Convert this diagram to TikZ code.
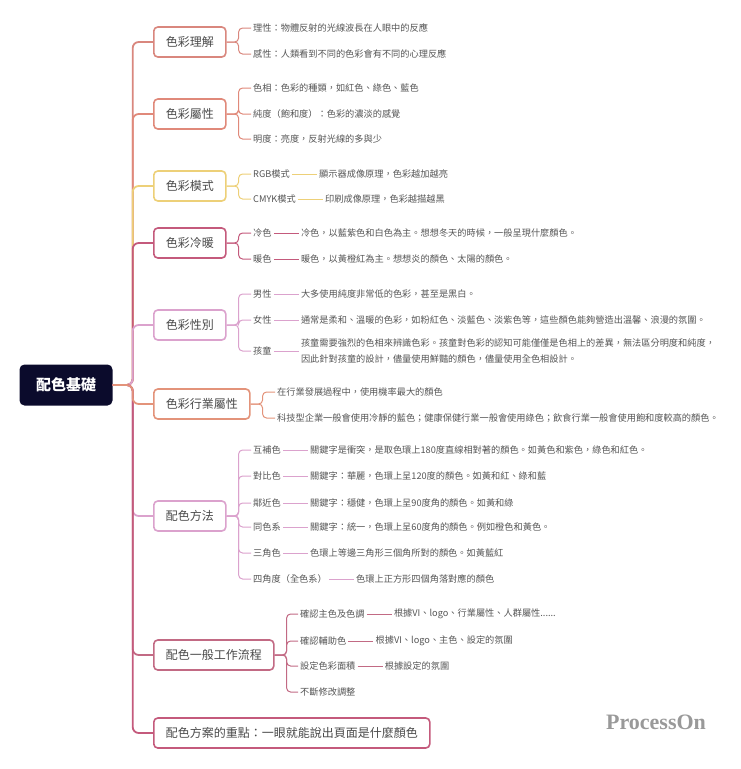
\documentclass[tikz,border=0pt]{standalone}
\usepackage{fontspec}
\setmainfont{Noto Sans CJK TC}
\newfontfamily\logofont{Liberation Serif}
\usetikzlibrary{positioning}
\definecolor{rootnavy}{HTML}{0B0B2C}
\definecolor{salmon}{HTML}{D9877E}
\definecolor{coral}{HTML}{E0897A}
\definecolor{sand}{HTML}{EDD078}
\definecolor{rose}{HTML}{C45A7C}
\definecolor{orchid}{HTML}{DBA2CD}
\definecolor{apricot}{HTML}{E3937A}
\definecolor{wine}{HTML}{C26A84}
\definecolor{txtgray}{HTML}{4A4A4A}
\definecolor{leafgray}{HTML}{555555}
\tikzstyle{catnode}=[draw, rounded corners=4pt, line width=1.6pt, fill=white,
					text=txtgray, font=\fontsize{12}{14}\selectfont,
					minimum height=30pt, inner xsep=12pt, anchor=west]

\begin{document}
\begin{tikzpicture}[x=1pt, y=-1pt,
 rootnode/.style={rectangle, rounded corners=5pt, fill=rootnavy, text=white, font=\bfseries\fontsize{15}{18}\selectfont, minimum width=93pt, minimum height=41pt},
 leafnode/.style={anchor=west, inner sep=2pt, text=leafgray, font=\fontsize{9.2}{16}\selectfont},
 branch/.style={line width=1.8pt, rounded corners=6pt},
 twig/.style={line width=1pt, rounded corners=4pt},
 ]
 \useasboundingbox (0,0) rectangle (740,769);
 %Nodes
 \node[rootnode]  (root_node)  at (66,385) {配色基礎};

 \node[catnode, draw=salmon]  (understand_node)  at (153,42)  {色彩理解};
 \node[catnode, draw=coral]   (attribute_node)   at (153,114) {色彩屬性};
 \node[catnode, draw=sand]    (mode_node)        at (153,186) {色彩模式};
 \node[catnode, draw=rose]    (temp_node)        at (153,243) {色彩冷暖};
 \node[catnode, draw=orchid]  (gender_node)      at (153,325) {色彩性別};
 \node[catnode, draw=apricot] (industry_node)    at (153,404) {色彩行業屬性};
 \node[catnode, draw=orchid]  (method_node)      at (153,516) {配色方法};
 \node[catnode, draw=wine]    (flow_node)        at (153,655) {配色一般工作流程};
 \node[catnode, draw=rose]    (key_node)         at (153,733) {配色方案的重點：一眼就能說出頁面是什麼顏色};

 \node[leafnode] (rational_node)  at (251,28)  {理性：物體反射的光線波長在人眼中的反應};
 \node[leafnode] (emotion_node)   at (251,54)  {感性：人類看到不同的色彩會有不同的心理反應};

 \node[leafnode] (hue_node)       at (251,88)  {色相：色彩的種類，如紅色、綠色、藍色};
 \node[leafnode] (chroma_node)    at (251,114) {純度（飽和度）：色彩的濃淡的感覺};
 \node[leafnode] (value_node)     at (251,139) {明度：亮度，反射光線的多與少};

 \node[leafnode] (rgb_node)       at (251,174) {RGB模式};
 \node[leafnode] (rgb_desc)       [right=25pt of rgb_node] {顯示器成像原理，色彩越加越亮};
 \node[leafnode] (cmyk_node)      at (251,199) {CMYK模式};
 \node[leafnode] (cmyk_desc)      [right=25pt of cmyk_node] {印刷成像原理，色彩越描越黑};

 \node[leafnode] (cold_node)      at (251,233) {冷色};
 \node[leafnode] (cold_desc)      [right=25pt of cold_node] {冷色，以藍紫色和白色為主。想想冬天的時候，一般呈現什麼顏色。};
 \node[leafnode] (warm_node)      at (251,259) {暖色};
 \node[leafnode] (warm_desc)      [right=25pt of warm_node] {暖色，以黃橙紅為主。想想炎的顏色、太陽的顏色。};

 \node[leafnode] (male_node)      at (251,294) {男性};
 \node[leafnode] (male_desc)      [right=25pt of male_node] {大多使用純度非常低的色彩，甚至是黑白。};
 \node[leafnode] (female_node)    at (251,320) {女性};
 \node[leafnode] (female_desc)    [right=25pt of female_node] {通常是柔和、溫暖的色彩，如粉紅色、淡藍色、淡紫色等，這些顏色能夠營造出溫馨、浪漫的氛圍。};
 \node[leafnode] (child_node)     at (251,351) {孩童};
 \node[leafnode, align=left] (child_desc) [right=25pt of child_node] {孩童需要強烈的色相來辨識色彩。孩童對色彩的認知可能僅僅是色相上的差異，無法區分明度和純度，\\因此針對孩童的設計，儘量使用鮮豔的顏色，儘量使用全色相設計。};

 \node[leafnode] (usage_node)     at (275,392) {在行業發展過程中，使用機率最大的顏色};
 \node[leafnode] (sector_node)    at (275,418) {科技型企業一般會使用冷靜的藍色；健康保健行業一般會使用綠色；飲食行業一般會使用飽和度較高的顏色。};

 \node[leafnode] (compl_node)     at (251,450) {互補色};
 \node[leafnode] (compl_desc)     [right=25pt of compl_node] {關鍵字是衝突，是取色環上180度直線相對著的顏色。如黃色和紫色，綠色和紅色。};
 \node[leafnode] (contrast_node)  at (251,476) {對比色};
 \node[leafnode] (contrast_desc)  [right=25pt of contrast_node] {關鍵字：華麗，色環上呈120度的顏色。如黃和紅、綠和藍};
 \node[leafnode] (adjacent_node)  at (251,503) {鄰近色};
 \node[leafnode] (adjacent_desc)  [right=25pt of adjacent_node] {關鍵字：穩健，色環上呈90度角的顏色。如黃和綠};
 \node[leafnode] (mono_node)      at (251,527) {同色系};
 \node[leafnode] (mono_desc)      [right=25pt of mono_node] {關鍵字：統一，色環上呈60度角的顏色。例如橙色和黃色。};
 \node[leafnode] (triad_node)     at (251,553) {三角色};
 \node[leafnode] (triad_desc)     [right=25pt of triad_node] {色環上等邊三角形三個角所對的顏色。如黃藍紅};
 \node[leafnode] (tetrad_node)    at (251,579) {四角度（全色系）};
 \node[leafnode] (tetrad_desc)    [right=25pt of tetrad_node] {色環上正方形四個角落對應的顏色};

 \node[leafnode] (main_node)      at (298,614) {確認主色及色調};
 \node[leafnode] (main_desc)      [right=25pt of main_node] {根據VI、logo、行業屬性、人群屬性......};
 \node[leafnode] (assist_node)    at (298,641) {確認輔助色};
 \node[leafnode] (assist_desc)    [right=25pt of assist_node] {根據VI、logo、主色、設定的氛圍};
 \node[leafnode] (area_node)      at (298,666) {設定色彩面積};
 \node[leafnode] (area_desc)      [right=25pt of area_node] {根據設定的氛圍};
 \node[leafnode] (adjust_node)    at (298,692) {不斷修改調整};

 \node[font=\logofont\bfseries\fontsize{22}{26}\selectfont, text=black!40] (logo_node) at (656,722) {ProcessOn};

 %Lines
 \draw[branch, salmon]  (root_node.east) -- ++(20,0) |- (understand_node.west);
 \draw[branch, coral]   (root_node.east) -- ++(20,0) |- (attribute_node.west);
 \draw[branch, sand]    (root_node.east) -- ++(20,0) |- (mode_node.west);
 \draw[branch, rose]    (root_node.east) -- ++(20,0) |- (temp_node.west);
 \draw[branch, orchid]  (root_node.east) -- ++(20,0) |- (gender_node.west);
 \draw[branch, orchid]  (root_node.east) -- ++(20,0) |- (method_node.west);
 \draw[branch, wine]    (root_node.east) -- ++(20,0) |- (flow_node.west);
 \draw[branch, rose]    (root_node.east) -- ++(20,0) |- (key_node.west);
 \draw[branch, apricot] (root_node.east) -- ++(20,0) |- (industry_node.west);

 \draw[twig, salmon] (understand_node.east) -- ++(12,0) |- (rational_node.west);
 \draw[twig, salmon] (understand_node.east) -- ++(12,0) |- (emotion_node.west);

 \draw[twig, coral] (attribute_node.east) -- ++(12,0) |- (hue_node.west);
 \draw[twig, coral] (attribute_node.east) -- ++(12,0) |- (chroma_node.west);
 \draw[twig, coral] (attribute_node.east) -- ++(12,0) |- (value_node.west);

 \draw[twig, sand] (mode_node.east) -- ++(12,0) |- (rgb_node.west);
 \draw[twig, sand] (mode_node.east) -- ++(12,0) |- (cmyk_node.west);
 \draw[twig, sand] (rgb_node.east) -- (rgb_desc.west);
 \draw[twig, sand] (cmyk_node.east) -- (cmyk_desc.west);

 \draw[twig, rose] (temp_node.east) -- ++(12,0) |- (cold_node.west);
 \draw[twig, rose] (temp_node.east) -- ++(12,0) |- (warm_node.west);
 \draw[twig, rose] (cold_node.east) -- (cold_desc.west);
 \draw[twig, rose] (warm_node.east) -- (warm_desc.west);

 \draw[twig, orchid] (gender_node.east) -- ++(12,0) |- (male_node.west);
 \draw[twig, orchid] (gender_node.east) -- ++(12,0) |- (female_node.west);
 \draw[twig, orchid] (gender_node.east) -- ++(12,0) |- (child_node.west);
 \draw[twig, orchid] (male_node.east) -- (male_desc.west);
 \draw[twig, orchid] (female_node.east) -- (female_desc.west);
 \draw[twig, orchid] (child_node.east) -- (child_desc.west);

 \draw[twig, apricot] (industry_node.east) -- ++(12,0) |- (usage_node.west);
 \draw[twig, apricot] (industry_node.east) -- ++(12,0) |- (sector_node.west);

 \draw[twig, orchid] (method_node.east) -- ++(12,0) |- (compl_node.west);
 \draw[twig, orchid] (method_node.east) -- ++(12,0) |- (contrast_node.west);
 \draw[twig, orchid] (method_node.east) -- ++(12,0) |- (adjacent_node.west);
 \draw[twig, orchid] (method_node.east) -- ++(12,0) |- (mono_node.west);
 \draw[twig, orchid] (method_node.east) -- ++(12,0) |- (triad_node.west);
 \draw[twig, orchid] (method_node.east) -- ++(12,0) |- (tetrad_node.west);
 \draw[twig, orchid] (compl_node.east) -- (compl_desc.west);
 \draw[twig, orchid] (contrast_node.east) -- (contrast_desc.west);
 \draw[twig, orchid] (adjacent_node.east) -- (adjacent_desc.west);
 \draw[twig, orchid] (mono_node.east) -- (mono_desc.west);
 \draw[twig, orchid] (triad_node.east) -- (triad_desc.west);
 \draw[twig, orchid] (tetrad_node.east) -- (tetrad_desc.west);

 \draw[twig, wine] (flow_node.east) -- ++(12,0) |- (main_node.west);
 \draw[twig, wine] (flow_node.east) -- ++(12,0) |- (assist_node.west);
 \draw[twig, wine] (flow_node.east) -- ++(12,0) |- (area_node.west);
 \draw[twig, wine] (flow_node.east) -- ++(12,0) |- (adjust_node.west);
 \draw[twig, wine] (main_node.east) -- (main_desc.west);
 \draw[twig, wine] (assist_node.east) -- (assist_desc.west);
 \draw[twig, wine] (area_node.east) -- (area_desc.west);
\end{tikzpicture}
\end{document}
